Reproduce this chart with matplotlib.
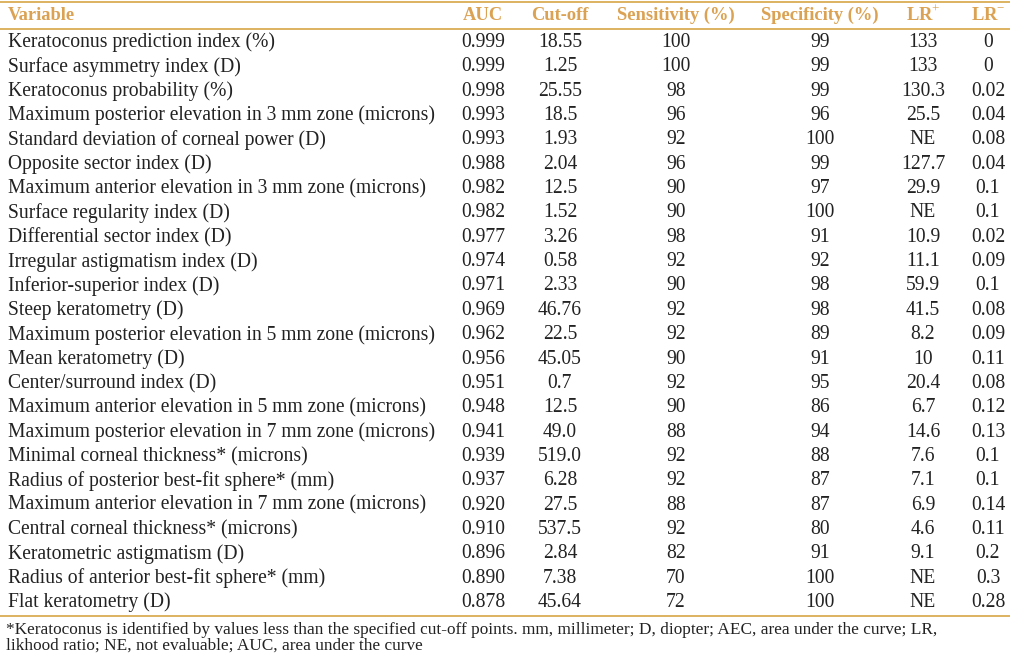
import matplotlib
matplotlib.use("Agg")
from matplotlib import pyplot as plt
from matplotlib.lines import Line2D

# table contents
variables = [
    "Keratoconus prediction index (%)",
    "Surface asymmetry index (D)",
    "Keratoconus probability (%)",
    "Maximum posterior elevation in 3 mm zone (microns)",
    "Standard deviation of corneal power (D)",
    "Opposite sector index (D)",
    "Maximum anterior elevation in 3 mm zone (microns)",
    "Surface regularity index (D)",
    "Differential sector index (D)",
    "Irregular astigmatism index (D)",
    "Inferior-superior index (D)",
    "Steep keratometry (D)",
    "Maximum posterior elevation in 5 mm zone (microns)",
    "Mean keratometry (D)",
    "Center/surround index (D)",
    "Maximum anterior elevation in 5 mm zone (microns)",
    "Maximum posterior elevation in 7 mm zone (microns)",
    "Minimal corneal thickness* (microns)",
    "Radius of posterior best-fit sphere* (mm)",
    "Maximum anterior elevation in 7 mm zone (microns)",
    "Central corneal thickness* (microns)",
    "Keratometric astigmatism (D)",
    "Radius of anterior best-fit sphere* (mm)",
    "Flat keratometry (D)",
]
auc = ["0.999", "0.999", "0.998", "0.993", "0.993", "0.988", "0.982", "0.982",
       "0.977", "0.974", "0.971", "0.969", "0.962", "0.956", "0.951", "0.948",
       "0.941", "0.939", "0.937", "0.920", "0.910", "0.896", "0.890", "0.878"]
cutoff = ["18.55", "1.25", "25.55", "18.5", "1.93", "2.04", "12.5", "1.52",
          "3.26", "0.58", "2.33", "46.76", "22.5", "45.05", "0.7", "12.5",
          "49.0", "519.0", "6.28", "27.5", "537.5", "2.84", "7.38", "45.64"]
sensitivity = ["100", "100", "98", "96", "92", "96", "90", "90", "98", "92",
               "90", "92", "92", "90", "92", "90", "88", "92", "92", "88",
               "92", "82", "70", "72"]
specificity = ["99", "99", "99", "96", "100", "99", "97", "100", "91", "92",
               "98", "98", "89", "91", "95", "86", "94", "88", "87", "87",
               "80", "91", "100", "100"]
lr_pos = ["133", "133", "130.3", "25.5", "NE", "127.7", "29.9", "NE", "10.9",
          "11.1", "59.9", "41.5", "8.2", "10", "20.4", "6.7", "14.6", "7.6",
          "7.1", "6.9", "4.6", "9.1", "NE", "NE"]
lr_neg = ["0", "0", "0.02", "0.04", "0.08", "0.04", "0.1", "0.1", "0.02",
          "0.09", "0.1", "0.08", "0.09", "0.11", "0.08", "0.12", "0.13", "0.1",
          "0.1", "0.14", "0.11", "0.2", "0.3", "0.28"]
headers = ["Variable", "AUC", "Cut-off", "Sensitivity (%)", "Specificity (%)",
           "LR$^{+}$", "LR$^{-}$"]
footnote = [
    "*Keratoconus is identified by values less than the specified cut-off "
    "points. mm, millimeter; D, diopter; AEC, area under the curve; LR,",
    "likhood ratio; NE, not evaluable; AUC, area under the curve",
]

W, H = 1010, 654
GOLD = "#D6A544"
HEAD = "#DBA253"
TEXT = "#222222"

plt.rcParams["font.family"] = ["Liberation Serif", "DejaVu Serif"]
plt.rcParams["mathtext.fontset"] = "custom"
plt.rcParams["mathtext.rm"] = "Liberation Serif"
plt.rcParams["mathtext.bf"] = "Liberation Serif:bold"

fig = plt.figure(figsize=(W / 100, H / 100), dpi=100)
fig.patch.set_facecolor("white")
renderer = fig.canvas.get_renderer()


def fit_size(s, width, weight="normal"):
    # font size that makes text `s` about `width` pixels wide
    t = fig.text(0, 0, s, fontsize=10, fontweight=weight)
    w = t.get_window_extent(renderer).width
    t.remove()
    return 10 * width / w


def put(x, y, s, **kw):
    return fig.text(x / W, 1 - y / H, s, va="center", **kw)


def hline(y):
    fig.add_artist(Line2D([0, 1], [1 - y / H, 1 - y / H], color=GOLD, lw=1.2))


col_x = [8, 483, 560, 676, 820, 923, 988]
fs = fit_size(variables[3], 427)
fs_head = fit_size("Sensitivity (%)", 118, "bold")
fs_note = fit_size(footnote[0], 925)

hline(2)
hline(28.5)
hline(616)

for i, h in enumerate(headers):
    ha = "left" if i == 0 else "center"
    put(col_x[i], 15, h, ha=ha, color=HEAD, fontsize=fs_head, fontweight="bold")

row_y0, row_dy = 42.5, 24.35
columns = [auc, cutoff, sensitivity, specificity, lr_pos, lr_neg]
for r, name in enumerate(variables):
    y = row_y0 + r * row_dy
    put(col_x[0], y, name, ha="left", color=TEXT, fontsize=fs)
    for c, col in enumerate(columns):
        put(col_x[c + 1], y, col[r], ha="center", color=TEXT, fontsize=fs)

fig.text(6 / W, 1 - 622 / H, "\n".join(footnote), ha="left", va="top",
         color=TEXT, fontsize=fs_note, linespacing=0.95)

fig.savefig("out.png", dpi=100)
plt.close(fig)
